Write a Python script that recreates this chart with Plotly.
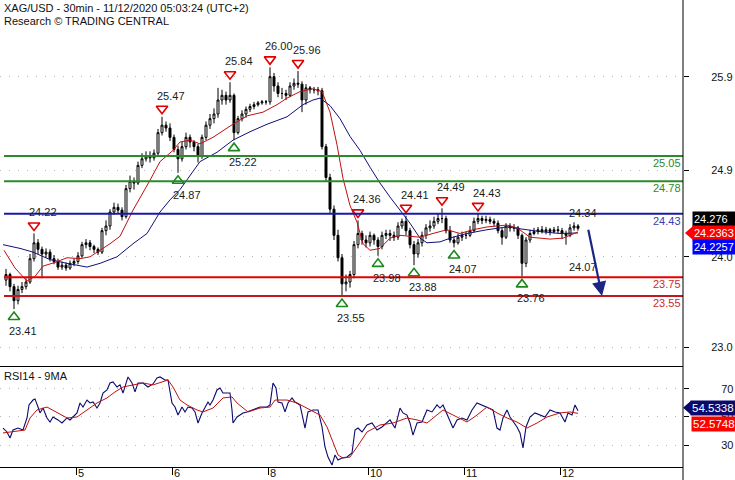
import plotly.graph_objects as go

# ---------------- data (hourly candles, index 0 = Nov 4 06:00 UTC+2) ----------------
opens = [
    23.72, 23.78, 23.65, 23.50, 23.62, 23.65, 23.70, 23.95, 24.12, 24.05, 24.00, 24.02,
    23.95, 23.92, 23.86, 23.88, 23.85, 23.90, 23.92, 23.98, 24.10, 24.12, 24.08, 24.05,
    24.02, 24.25, 24.30, 24.45, 24.50, 24.47, 24.40, 24.70, 24.78, 24.76, 24.95, 25.02,
    25.05, 25.03, 25.08, 25.30, 25.38, 25.35, 25.25, 25.12, 25.02, 25.15, 25.25, 25.20,
    25.15, 25.05, 25.25, 25.38, 25.45, 25.50, 25.65, 25.70, 25.65, 25.70, 25.30, 25.45,
    25.50, 25.55, 25.58, 25.60, 25.62, 25.63, 25.63, 25.90, 25.80, 25.72, 25.72, 25.70,
    25.80, 25.83, 25.82, 25.65, 25.78, 25.76, 25.76, 25.75, 25.15, 24.82, 24.48, 24.20,
    23.96, 23.68, 23.70, 23.78, 24.10, 24.22, 24.15, 24.12, 24.20, 24.15, 24.08, 24.20,
    24.22, 24.20, 24.18, 24.30, 24.35, 24.25, 24.10, 24.00, 24.12, 24.20, 24.28, 24.30,
    24.35, 24.38, 24.38, 24.25, 24.15, 24.12, 24.18, 24.20, 24.20, 24.25, 24.35, 24.38,
    24.36, 24.37, 24.35, 24.33, 24.25, 24.18, 24.30, 24.28, 24.28, 24.20, 23.90, 24.15,
    24.22, 24.24, 24.26, 24.24, 24.26, 24.24, 24.26, 24.25, 24.22, 24.20, 24.28, 24.30,
]
highs = [
    23.84, 23.80, 23.68, 23.66, 23.70, 23.74, 24.00, 24.22, 24.16, 24.08, 24.06, 24.05,
    23.99, 23.95, 23.92, 23.91, 23.93, 23.95, 24.02, 24.13, 24.16, 24.15, 24.10, 24.07,
    24.28, 24.36, 24.48, 24.55, 24.54, 24.50, 24.74, 24.84, 24.82, 24.99, 25.08, 25.10,
    25.10, 25.12, 25.34, 25.47, 25.42, 25.40, 25.28, 25.16, 25.20, 25.30, 25.28, 25.22,
    25.18, 25.28, 25.42, 25.50, 25.56, 25.78, 25.76, 25.74, 25.84, 25.72, 25.48, 25.54,
    25.58, 25.61, 25.63, 25.64, 25.65, 25.65, 26.00, 25.94, 25.84, 25.78, 25.76, 25.84,
    25.88, 25.96, 25.85, 25.82, 25.80, 25.79, 25.79, 25.78, 25.18, 24.86, 24.52, 24.26,
    24.00, 23.78, 23.82, 24.14, 24.36, 24.25, 24.20, 24.24, 24.22, 24.18, 24.24, 24.26,
    24.26, 24.24, 24.34, 24.38, 24.41, 24.28, 24.14, 24.16, 24.24, 24.32, 24.36, 24.40,
    24.43, 24.49, 24.41, 24.30, 24.19, 24.22, 24.24, 24.24, 24.30, 24.39, 24.43, 24.41,
    24.41, 24.40, 24.38, 24.36, 24.28, 24.33, 24.33, 24.32, 24.30, 24.22, 24.18, 24.26,
    24.28, 24.29, 24.30, 24.29, 24.28, 24.29, 24.30, 24.28, 24.25, 24.32, 24.34, 24.32,
]
lows = [
    23.66, 23.60, 23.41, 23.46, 23.58, 23.62, 23.68, 23.92, 24.00, 23.74, 23.96, 23.92,
    23.89, 23.83, 23.83, 23.82, 23.83, 23.87, 23.89, 23.96, 24.06, 24.04, 24.01, 23.99,
    24.00, 24.20, 24.26, 24.42, 24.43, 24.36, 24.38, 24.66, 24.69, 24.74, 24.92, 24.99,
    24.98, 25.00, 25.06, 25.27, 25.31, 25.21, 25.09, 24.87, 24.99, 25.12, 25.14, 25.10,
    24.98, 25.02, 25.22, 25.34, 25.40, 25.46, 25.60, 25.60, 25.62, 25.22, 25.28, 25.42,
    25.46, 25.52, 25.55, 25.58, 25.60, 25.60, 25.60, 25.74, 25.68, 25.66, 25.65, 25.68,
    25.76, 25.78, 25.52, 25.60, 25.72, 25.72, 25.70, 25.12, 24.78, 24.44, 24.15, 23.92,
    23.55, 23.60, 23.64, 23.74, 24.06, 24.10, 24.07, 24.08, 24.10, 23.98, 24.05, 24.16,
    24.14, 24.14, 24.15, 24.27, 24.20, 24.06, 23.88, 23.96, 24.08, 24.16, 24.24, 24.27,
    24.32, 24.33, 24.22, 24.12, 24.07, 24.10, 24.14, 24.16, 24.18, 24.23, 24.32, 24.32,
    24.33, 24.32, 24.30, 24.22, 24.10, 24.16, 24.24, 24.24, 24.16, 23.76, 23.86, 24.12,
    24.20, 24.21, 24.22, 24.21, 24.20, 24.22, 24.22, 24.16, 24.10, 24.18, 24.25, 24.25,
]
closes = [
    23.78, 23.65, 23.50, 23.62, 23.65, 23.70, 23.95, 24.12, 24.05, 24.00, 24.02, 23.95,
    23.92, 23.86, 23.88, 23.85, 23.90, 23.92, 23.98, 24.10, 24.12, 24.08, 24.05, 24.02,
    24.25, 24.30, 24.45, 24.50, 24.47, 24.40, 24.70, 24.78, 24.76, 24.95, 25.02, 25.05,
    25.03, 25.08, 25.30, 25.38, 25.35, 25.25, 25.12, 25.02, 25.15, 25.25, 25.20, 25.15,
    25.05, 25.25, 25.38, 25.45, 25.50, 25.65, 25.70, 25.65, 25.70, 25.30, 25.45, 25.50,
    25.55, 25.58, 25.60, 25.62, 25.63, 25.63, 25.90, 25.80, 25.72, 25.72, 25.70, 25.80,
    25.83, 25.82, 25.65, 25.78, 25.76, 25.76, 25.75, 25.15, 24.82, 24.48, 24.20, 23.96,
    23.68, 23.70, 23.78, 24.10, 24.22, 24.15, 24.12, 24.20, 24.15, 24.08, 24.20, 24.22,
    24.20, 24.18, 24.30, 24.35, 24.25, 24.10, 24.00, 24.12, 24.20, 24.28, 24.30, 24.35,
    24.38, 24.38, 24.25, 24.15, 24.12, 24.18, 24.20, 24.20, 24.25, 24.35, 24.38, 24.36,
    24.37, 24.35, 24.33, 24.25, 24.18, 24.30, 24.28, 24.28, 24.20, 23.90, 24.15, 24.22,
    24.24, 24.26, 24.24, 24.26, 24.24, 24.26, 24.25, 24.22, 24.20, 24.28, 24.30, 24.276,
]

# moving averages: (bar index, value)
ma_fast_pts = [(-0.5, 24.04), (2.25, 23.85), (5.25, 23.71), (7.25, 23.76), (9.25, 23.87), (12.25, 23.91),
               (15.25, 23.96), (18.5, 23.95), (21, 23.97), (23.5, 24.04), (26, 24.11), (28.5, 24.19),
               (31.75, 24.47), (36, 24.79), (38.5, 24.99), (41.75, 25.11), (43.5, 25.20), (46, 25.22),
               (48.5, 25.18), (51.75, 25.25), (56, 25.37), (60.25, 25.48), (64.25, 25.52), (67.75, 25.60),
               (70.25, 25.67), (73.5, 25.74), (76.75, 25.77), (79, 25.74), (81, 25.52), (82.75, 25.17),
               (84.25, 24.81), (86, 24.52), (87.75, 24.34), (89.25, 24.11), (91, 24.04), (93.5, 24.06),
               (96, 24.17), (98.5, 24.20), (101, 24.19), (103.5, 24.18), (106.75, 24.22), (110.25, 24.26),
               (113.5, 24.22), (116.75, 24.26), (120.25, 24.29), (125.25, 24.31), (127.75, 24.28),
               (131, 24.18), (136, 24.16), (139.25, 24.17), (143, 24.2363)]
ma_slow_pts = [(-0.75, 24.10), (3.5, 24.06), (6.75, 24.02), (11, 23.94), (15.25, 23.90), (20.25, 23.86),
               (23.5, 23.90), (27.75, 23.97), (31.75, 24.11), (35.25, 24.22), (38.5, 24.45), (41, 24.58),
               (43.5, 24.69), (48.5, 24.99), (52.75, 25.09), (56.75, 25.22), (61, 25.31), (65.25, 25.39),
               (70.25, 25.47), (74.25, 25.60), (76.75, 25.65), (78.5, 25.67), (81, 25.59), (83.5, 25.45),
               (86, 25.26), (88.5, 25.11), (91, 24.93), (93.5, 24.76), (96, 24.61), (98.5, 24.47),
               (101, 24.33), (103.5, 24.17), (105.25, 24.12), (108.5, 24.13), (111.75, 24.18),
               (115.25, 24.22), (120.25, 24.26), (125.25, 24.29), (130.25, 24.26), (133.5, 24.24),
               (138.5, 24.22), (143, 24.2257)]

rsi_pts = [(-0.75, 42.1), (0.25, 39.3), (1, 35), (1.75, 40.7), (3, 42.1), (4.25, 40.7), (5.25, 49.3),
           (5.75, 58.6), (6.75, 62.1), (7.25, 62.9), (8, 57.1), (8.5, 52.9), (9.25, 56.4), (10.25, 49.3),
           (11, 46.4), (11.75, 50), (13, 47.9), (14, 45.7), (15.25, 49.3), (16, 47.9), (16.75, 50),
           (17.75, 52.9), (18.5, 60), (19.25, 57.1), (20.25, 62.1), (21, 60), (21.75, 60.7), (22.75, 56.4),
           (23.5, 60), (24.25, 67.1), (25.25, 69.3), (26, 74.3), (26.75, 75), (27.75, 71.4), (28.5, 72.9),
           (29.25, 67.1), (30.5, 78.6), (31.5, 74.3), (32.25, 67.9), (33, 74.3), (34.25, 74.3), (35.5, 71.4),
           (36.75, 73.6), (37.75, 77.9), (38.5, 78.6), (39.75, 76.4), (40.5, 76.4), (41, 69.3), (41.5, 60),
           (42.25, 57.1), (43, 51.4), (44, 57.1), (44.75, 53.6), (45.5, 57.1), (46.5, 56.4), (47.25, 53.6),
           (48, 45.7), (49, 52.9), (49.75, 57.1), (50.5, 60.7), (51, 58.6), (51.75, 62.1), (52.75, 69.3),
           (53.5, 70.7), (54.25, 67.1), (56, 67.1), (56.5, 55), (56.75, 45.7), (57.75, 50), (58.5, 51.4),
           (59.25, 52.9), (60.25, 53.6), (61.75, 55), (63.5, 57.1), (65.25, 57.1), (66, 58.6), (66.75, 74.3),
           (67.5, 70.7), (68, 60.7), (69, 60), (69.75, 53.6), (70.5, 60), (71.5, 63.6), (72.25, 60.7),
           (73.5, 58.6), (74.25, 50), (74.75, 42.1), (75.5, 53.6), (76.75, 55), (78, 55), (79, 42.9),
           (79.75, 28.6), (80.5, 21.4), (81.5, 15.7), (82.25, 22.9), (83, 19.3), (84, 20.7), (85.25, 21.4),
           (86.5, 24.3), (87.25, 40.7), (88, 42.1), (89, 39.3), (90.25, 44.3), (91.5, 45.7), (92.75, 40.7),
           (94, 42.9), (95.25, 46.4), (96, 47.9), (97.25, 42.1), (98.5, 56.4), (99.25, 52.9), (100.25, 51.4),
           (101, 45.7), (101.75, 37.1), (102.75, 45.7), (104, 46.4), (105.25, 55), (106.5, 53.6),
           (107.75, 58.6), (108.5, 56.4), (109.25, 58.6), (110.5, 50), (111.75, 42.1), (112.75, 47.9),
           (114, 49.3), (115.25, 47.9), (116.5, 55), (117.75, 60), (119, 58.6), (120.25, 57.1),
           (121.75, 55), (122.75, 42.1), (123.5, 40.7), (124.25, 49.3), (125.25, 55), (126, 50),
           (127, 46.4), (127.75, 42.9), (128.5, 38.6), (129.25, 27.9), (130, 42.9), (131, 50),
           (132.25, 52.9), (133.5, 51.4), (134.75, 50), (136, 55), (137.25, 53.6), (138.5, 52.9),
           (139.75, 46.4), (140.5, 52.9), (141.5, 51.4), (142.25, 58.6), (143, 54.5338)]
rsi_ma_pts = [(-0.75, 38.6), (4.75, 40.7), (6, 49.3), (7.75, 55), (10.25, 57.1), (12.75, 52.9), (15.25, 49.3),
              (17.75, 50), (20.25, 55), (22.75, 60), (25.25, 63.6), (27.25, 67.9), (29.25, 71.4),
              (31.75, 72.9), (34.25, 74.3), (36.75, 72.9), (39.25, 75), (40.5, 76.4), (41.75, 71.4),
              (43.5, 62.1), (45.25, 58.6), (47.75, 55), (49.25, 53.6), (51.75, 56.4), (54.25, 63.6),
              (56.5, 64.3), (57.75, 60), (60.5, 53.6), (63.5, 56.4), (66, 57.1), (67.25, 62.1), (70.25, 62.1),
              (72.75, 60), (76, 55), (78.5, 51.4), (80.25, 42.9), (81.75, 31.4), (83, 22.9), (84.25, 20.7),
              (86, 21.4), (87.75, 28.6), (90.25, 39.3), (93.5, 44.3), (96.75, 45.7), (100.25, 49.3),
              (102.75, 47.9), (105.25, 45.7), (106.75, 49.3), (109.25, 55), (111.75, 51.4), (115.25, 46.4),
              (117.75, 51.4), (120.25, 57.1), (122.75, 52.9), (125.25, 49.3), (127.75, 46.4), (130.25, 42.1),
              (132.75, 45.7), (135.25, 50), (138.5, 52.9), (141, 53.6), (143, 52.5748)]

levels = [25.05, 24.78, 24.43, 23.75, 23.55]
level_colors = ["#2b8a2b", "#2b8a2b", "#1a1aa6", "#e60000", "#c4161c"]
level_text_colors = ["#2b8a2b", "#2b8a2b", "#3b3bb0", "#cc2a2a", "#cc2a2a"]

swing_high_idx = [7, 39, 56, 66, 73, 88, 100, 109, 118]
swing_high_val = [24.22, 25.47, 25.84, 26.00, 25.96, 24.36, 24.41, 24.49, 24.43]
swing_low_idx = [2, 43, 57, 84, 93, 102, 112, 129]
swing_low_val = [23.41, 24.87, 25.22, 23.55, 23.98, 23.88, 24.07, 23.76]
pending_high = 24.34
pending_low = 24.07

day_labels = ["5", "6", "8", "10", "11", "12"]
day_first_bar = [18, 42, 66, 91, 115, 139]

price_ticks = [23.0, 23.97, 24.9, 25.9]
price_tick_text = ["23.0", "24.0", "24.9", "25.9"]
rsi_ticks = [30, 50, 70]

last_price = 24.276
ma_fast_last = 24.2363
ma_slow_last = 24.2257
rsi_last = 54.5338
rsi_ma_last = 52.5748
target_level = 23.55

title_line1 = "XAG/USD - 30min - 11/12/2020 05:03:24 (UTC+2)"
title_line2 = "Research \u00a9 TRADING CENTRAL"

# ---------------- layout constants ----------------
W, H = 735, 480
M_L, M_R, M_T, M_B = 0, 52, 0, 13
PLOT_H = H - M_T - M_B
MAIN_PX = 366
RSI_FRAC = 1 - MAIN_PX / PLOT_H
P_MIN, P_MAX = 22.80, 26.7215
R_MIN, R_MAX = 14.3, 86.4
X_MIN, X_MAX = -1.5, 169.25
px_per_price = MAIN_PX / (P_MAX - P_MIN)
FONT = "Liberation Sans, Arial, sans-serif"

idx = list(range(len(closes)))
n = len(closes)

fig = go.Figure()

fig.add_trace(go.Candlestick(
    x=idx, open=opens, high=highs, low=lows, close=closes,
    xaxis="x", yaxis="y",
    increasing=dict(line=dict(color="black", width=1), fillcolor="white"),
    decreasing=dict(line=dict(color="black", width=1), fillcolor="black"),
    whiskerwidth=0, showlegend=False, hoverinfo="skip",
))
fig.add_trace(go.Scatter(x=[p[0] for p in ma_slow_pts], y=[p[1] for p in ma_slow_pts],
                         mode="lines", line=dict(color="#10107a", width=1), xaxis="x", yaxis="y",
                         showlegend=False, hoverinfo="skip"))
fig.add_trace(go.Scatter(x=[p[0] for p in ma_fast_pts], y=[p[1] for p in ma_fast_pts],
                         mode="lines", line=dict(color="#c01010", width=1), xaxis="x", yaxis="y",
                         showlegend=False, hoverinfo="skip"))

# swing markers
fig.add_trace(go.Scatter(x=swing_high_idx, y=[v + 8 / px_per_price for v in swing_high_val],
                         mode="markers", marker=dict(symbol="triangle-down-open", size=10,
                                                     color="#e00000", line=dict(width=1.6, color="#e00000")),
                         xaxis="x", yaxis="y", showlegend=False, hoverinfo="skip"))
fig.add_trace(go.Scatter(x=swing_low_idx, y=[v - 8 / px_per_price for v in swing_low_val],
                         mode="markers", marker=dict(symbol="triangle-up-open", size=10,
                                                     color="#1a8a1a", line=dict(width=1.6, color="#1a8a1a")),
                         xaxis="x", yaxis="y", showlegend=False, hoverinfo="skip"))

# RSI
fig.add_trace(go.Scatter(x=[p[0] for p in rsi_pts], y=[p[1] for p in rsi_pts], mode="lines",
                         line=dict(color="#0a0a6e", width=1.1), xaxis="x2", yaxis="y2",
                         showlegend=False, hoverinfo="skip"))
fig.add_trace(go.Scatter(x=[p[0] for p in rsi_ma_pts], y=[p[1] for p in rsi_ma_pts], mode="lines",
                         line=dict(color="#c01010", width=1), xaxis="x2", yaxis="y2",
                         showlegend=False, hoverinfo="skip"))

shapes = []
for lv, col in zip(levels, level_colors):
    shapes.append(dict(type="line", xref="x", yref="y", x0=-0.5, x1=X_MAX, y0=lv, y1=lv,
                       line=dict(color=col, width=2)))
# full-height right axis line
shapes.append(dict(type="line", xref="paper", yref="paper", x0=1, x1=1, y0=-M_B / PLOT_H, y1=1,
                   line=dict(color="black", width=1)))


def main_paper_y(v, shift_px=0):
    return RSI_FRAC + (v - P_MIN) / (P_MAX - P_MIN) * (1 - RSI_FRAC) + shift_px / PLOT_H


def rsi_paper_y(v, shift_px=0):
    return (v - R_MIN) / (R_MAX - R_MIN) * RSI_FRAC + shift_px / PLOT_H


# arrow tips of the price tags
shapes.append(dict(type="path", xref="paper", yref="paper", xsizemode="pixel", ysizemode="pixel",
                   xanchor=1, yanchor=main_paper_y(ma_fast_last, -1), path="M 2 0 L 10 7 L 10 -7 Z",
                   fillcolor="#ff0000", line=dict(width=0)))
shapes.append(dict(type="path", xref="paper", yref="paper", xsizemode="pixel", ysizemode="pixel",
                   xanchor=1, yanchor=rsi_paper_y(rsi_last, 3), path="M 0 0 L 8 7 L 8 -7 Z",
                   fillcolor="#0a0a6e", line=dict(width=0)))

annotations = []
txt_font = dict(family=FONT, size=11, color="#1a1a1a")
for i, v in zip(swing_high_idx, swing_high_val):
    annotations.append(dict(x=i, y=v, xref="x", yref="y", text=f"{v:.2f}", showarrow=False,
                            xanchor="left", xshift=-7, yanchor="middle", yshift=21, font=txt_font))
for i, v in zip(swing_low_idx, swing_low_val):
    annotations.append(dict(x=i, y=v, xref="x", yref="y", text=f"{v:.2f}", showarrow=False,
                            xanchor="left", xshift=-7, yanchor="middle", yshift=-22, font=txt_font))
annotations.append(dict(x=n - 2, y=pending_high, xref="x", yref="y", text=f"{pending_high:.2f}",
                        showarrow=False, xanchor="left", xshift=-7, yshift=9, font=txt_font))
annotations.append(dict(x=n - 2, y=pending_low, xref="x", yref="y", text=f"{pending_low:.2f}",
                        showarrow=False, xanchor="left", xshift=-7, yshift=-20, font=txt_font))

for lv, tc in zip(levels, level_text_colors):
    annotations.append(dict(x=1, y=lv, xref="paper", yref="y", text=f"{lv:.2f}", showarrow=False,
                            xanchor="right", xshift=0, yanchor="top", yshift=1,
                            font=dict(family=FONT, size=11, color=tc)))

# projection arrow
annotations.append(dict(x=n + 5, y=target_level, xref="x", yref="y", ax=n + 1.5, ay=last_price,
                        axref="x", ayref="y", showarrow=True, arrowhead=2, arrowsize=1.3,
                        arrowwidth=2.2, arrowcolor="#1b2585", text=""))


def tag(text, yref, y, yshift, bg, xshift=9, width=41, size=11):
    return dict(x=1, xref="paper", xanchor="left", xshift=xshift, y=y, yref=yref, yanchor="middle",
                yshift=yshift, text=text, showarrow=False, bgcolor=bg, borderpad=1, width=width,
                align="left", font=dict(family=FONT, size=size, color="white"))


annotations.append(tag(f"{last_price:.3f}", "y", last_price, 9, "#000000"))
annotations.append(tag(f"{ma_fast_last:.4f}", "y", ma_fast_last, -1, "#ff0000"))
annotations.append(tag(f"{ma_slow_last:.4f}", "y", ma_slow_last, -14, "#0000ff"))
annotations.append(tag(f"{rsi_last:.4f}", "y2", rsi_last, 3, "#0a0a6e", xshift=7, width=43, size=11.5))
annotations.append(tag(f"{rsi_ma_last:.4f}", "y2", rsi_ma_last, -11, "#ff0000", xshift=8, width=42,
                       size=11.5))

# titles
annotations.append(dict(x=0, y=1, xref="paper", yref="paper", xanchor="left", yanchor="top", xshift=2,
                        yshift=0, text=title_line1, showarrow=False,
                        font=dict(family=FONT, size=11, color="#111")))
annotations.append(dict(x=0, y=1, xref="paper", yref="paper", xanchor="left", yanchor="top", xshift=2,
                        yshift=-13, text=title_line2, showarrow=False,
                        font=dict(family=FONT, size=11, color="#111")))
annotations.append(dict(x=0, y=RSI_FRAC, xref="paper", yref="paper", xanchor="left", yanchor="top",
                        xshift=2, yshift=-2, text="RSI14 - 9MA", showarrow=False,
                        font=dict(family=FONT, size=11, color="#111")))
for lab, b in zip(day_labels, day_first_bar):
    annotations.append(dict(x=b - 0.5, y=0, xref="x2", yref="paper", xanchor="left", yanchor="top",
                            xshift=1, yshift=1, borderpad=0, text=lab, showarrow=False,
                            font=dict(family=FONT, size=11, color="#111")))

fig.update_layout(
    width=W, height=H, margin=dict(l=M_L, r=M_R, t=M_T, b=M_B),
    paper_bgcolor="white", plot_bgcolor="white", hovermode=False, showlegend=False,
    xaxis=dict(domain=[0, 1], anchor="y", range=[X_MIN, X_MAX], showgrid=False, zeroline=False,
               showticklabels=False, ticks="", showline=True, linecolor="black", linewidth=1,
               rangeslider=dict(visible=False)),
    yaxis=dict(domain=[RSI_FRAC, 1], anchor="x", side="right", range=[P_MIN, P_MAX],
               tickvals=price_ticks, ticktext=price_tick_text, ticks="outside", ticklen=5,
               tickcolor="black", showgrid=True, gridcolor="#b8b8b8", griddash="1px,8px", gridwidth=1,
               zeroline=False, showline=False, ticklabelstandoff=20,
               tickfont=dict(family=FONT, size=11, color="#111")),
    xaxis2=dict(domain=[0, 1], anchor="y2", matches="x", range=[X_MIN, X_MAX], showgrid=False,
                zeroline=False, showticklabels=False, ticks="outside", ticklen=7, tickcolor="black",
                tickvals=[b - 0.5 for b in day_first_bar], showline=True, linecolor="black", linewidth=1),
    yaxis2=dict(domain=[0, RSI_FRAC], anchor="x2", side="right", range=[R_MIN, R_MAX],
                tickvals=rsi_ticks, ticks="outside", ticklen=5, tickcolor="black", showgrid=True,
                gridcolor="#b8b8b8", griddash="1px,8px", gridwidth=1, zeroline=False, showline=False,
                ticklabelstandoff=30, tickfont=dict(family=FONT, size=11, color="#111")),
    shapes=shapes, annotations=annotations,
)

fig.write_html("out.html", config={"displayModeBar": False, "staticPlot": True},
               post_script="document.body.style.margin='0';document.body.style.overflow='hidden';")
